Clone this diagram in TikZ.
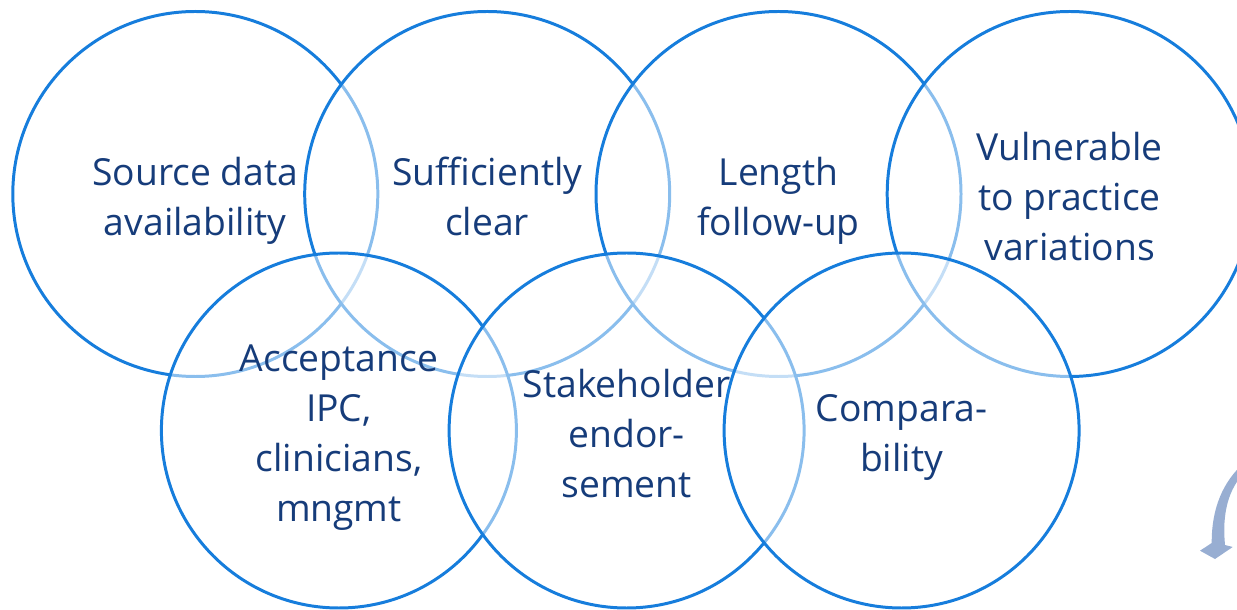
\documentclass[tikz,border=0pt]{standalone}
\usepackage{fontspec}
\setmainfont{Open Sans}

\definecolor{ringblue}{RGB}{22,125,220}
\definecolor{labelblue}{RGB}{22,60,122}
\definecolor{arrowgrey}{RGB}{152,174,210}

\begin{document}
\begin{tikzpicture}
      \tikzset{
	  bigring/.style={circle, draw=ringblue, line width=1.7pt, fill=white, fill opacity=0.5, inner sep=0em, minimum size=7.3cm},
	  smallring/.style={bigring, minimum size=7.1cm},
	  lbl/.style={align=center, text=labelblue, inner sep=0em, text depth=0pt, yshift=-0.05cm, font=\fontsize{21.2}{28.5}\selectfont}
      }
      \useasboundingbox (0,0) rectangle (24.74,12.18);

      %-----top row
      \node (src) at (3.906,8.30) [bigring] {};
      \node (clear) at (9.744,8.30) [bigring] {};
      \node (follow) at (15.57,8.30) [bigring] {};
      \node (vuln) at (21.394,8.30) [bigring] {};

      %-----bottom row
      \node (accept) at (6.778,3.57) [smallring] {};
      \node (endorse) at (12.532,3.57) [smallring] {};
      \node (compare) at (18.032,3.57) [smallring] {};

      %-----labels on top of everything
      \node (srct) at (src) [lbl] {Source data\\availability};
      \node (cleart) at (clear) [lbl] {Sufficiently\\clear};
      \node (followt) at (follow) [lbl] {Length\\follow-up};
      \node (vulnt) at (vuln) [lbl] {Vulnerable\\to practice\\variations};
      \node (acceptt) at (accept) [lbl] {Acceptance\\IPC,\\clinicians,\\mngmt};
      \node (endorset) at (endorse) [lbl] {Stakeholder\\endor-\\sement};
      \node (comparet) at (compare) [lbl] {Compara-\\bility};

      %-----curved arrow cut by the right border
      \fill [arrowgrey] (24.90,2.94) .. controls (24.45,2.55) and (24.23,2.00) .. (24.234,1.32)
	-- (24.00,1.166) -- (24.30,1.00) -- (24.654,1.24) -- (24.50,1.28)
	.. controls (24.44,1.90) and (24.56,2.40) .. (24.90,2.74) -- cycle;
\end{tikzpicture}
\end{document}
